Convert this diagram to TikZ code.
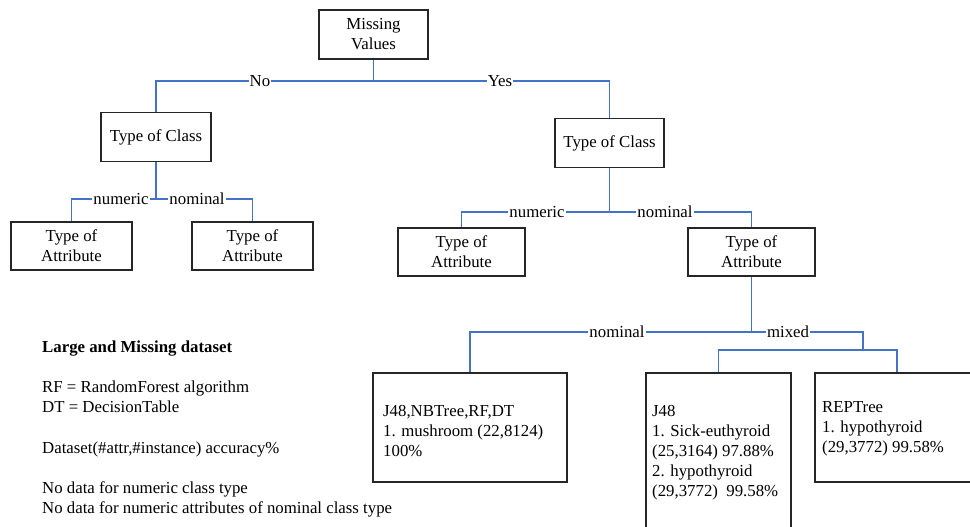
\documentclass[tikz,border=0pt]{standalone}
\usepackage{fontspec}
\setmainfont{Liberation Serif}
\newcommand\dfont{\fontsize{16.8}{20}\selectfont}
\definecolor{edgeblue}{RGB}{68,114,196}
\tikzset{
  box/.style={draw=black!85, line width=1.2pt, inner sep=0pt, align=center, font=\dfont},
  edge/.style={draw=edgeblue, line width=1.1pt},
  lab/.style={fill=white, inner sep=1pt, font=\dfont},
  txt/.style={anchor=base west, inner sep=0pt, font=\dfont}
}
\begin{document}
\begin{tikzpicture}[x=1pt,y=-1pt]
\useasboundingbox (0,0) rectangle (970,527);
\clip (0,0) rectangle (970,527);
% boxes
\node[box, minimum width=109pt, minimum height=49pt] (mv) at (373.5,34.5) {Missing\\Values};
\node[box, minimum width=110pt, minimum height=49pt] (tcL) at (156,137) {Type of Class};
\node[box, minimum width=109pt, minimum height=49pt] (tcR) at (609.5,143) {Type of Class};
\node[box, minimum width=121pt, minimum height=48pt] (taL1) at (71.5,246) {Type of\\Attribute};
\node[box, minimum width=121pt, minimum height=48pt] (taL2) at (252.5,246) {Type of\\Attribute};
\node[box, minimum width=127pt, minimum height=48pt] (taR1) at (461.5,252) {Type of\\Attribute};
\node[box, minimum width=127pt, minimum height=48pt] (taR2) at (751.5,252) {Type of\\Attribute};
\node[box, minimum width=194pt, minimum height=109pt] (nomb) at (470,427.5) {};
\node[box, minimum width=145pt, minimum height=180pt] (j48b) at (718.5,463) {};
\node[box, minimum width=164pt, minimum height=109pt] (repb) at (897,427.5) {};
% box texts
\node[txt] (t1a) at (383,416) {J48,NBTree,RF,DT};
\node[txt] (t1b) at (383,436) {1. mushroom (22,8124)};
\node[txt] (t1c) at (383,456) {100\%};
\node[txt] (t2a) at (652,416) {J48};
\node[txt] (t2b) at (652,436) {1. Sick-euthyroid};
\node[txt] (t2c) at (652,456) {(25,3164) 97.88\%};
\node[txt] (t2d) at (652,476) {2. hypothyroid};
\node[txt] (t2e) at (652,496) {(29,3772)\ \ 99.58\%};
\node[txt] (t3a) at (822,412) {REPTree};
\node[txt] (t3b) at (822,432) {1. hypothyroid};
\node[txt] (t3c) at (822,452) {(29,3772) 99.58\%};
% notes
\node[txt, font=\dfont\bfseries] (n1) at (42,352) {Large and Missing dataset};
\node[txt] (n2) at (42,392) {RF = RandomForest algorithm};
\node[txt] (n3) at (42,412) {DT = DecisionTable};
\node[txt] (n4) at (42,453) {Dataset(\#attr,\#instance) accuracy\%};
\node[txt] (n5) at (42,493) {No data for numeric class type};
\node[txt] (n6) at (42,513) {No data for numeric attributes of nominal class type};
% junctions
\coordinate (j0) at (373.5,81);
\coordinate (j1) at (156,199);
\coordinate (j2) at (609.5,212);
\coordinate (j3) at (751.5,332);
\coordinate (jm) at (863,350);
% connectors
\draw[edge] (mv.south) -- (j0);
\draw[edge] (j0) -| (tcL.north);
\draw[edge] (j0) -| (tcR.north);
\draw[edge] (tcL.south) -- (j1);
\draw[edge] (j1) -| (taL1.north);
\draw[edge] (j1) -| (taL2.north);
\draw[edge] (tcR.south) -- (j2);
\draw[edge] (j2) -| (taR1.north);
\draw[edge] (j2) -| (taR2.north);
\draw[edge] (taR2.south) -- (j3);
\draw[edge] (j3) -| (nomb.north);
\draw[edge] (j3) -| (jm);
\draw[edge] (jm) -| (j48b.north);
\draw[edge] (jm) -| (repb.north);
% labels
\node[lab] (lno) at (260,81) {No};
\node[lab] (lyes) at (500,81) {Yes};
\node[lab] (lnum1) at (121,199) {numeric};
\node[lab] (lnom1) at (197,199) {nominal};
\node[lab] (lnum2) at (537,212) {numeric};
\node[lab] (lnom2) at (665,212) {nominal};
\node[lab] (lnom3) at (617,332) {nominal};
\node[lab] (lmix) at (788,332) {mixed};
\end{tikzpicture}
\end{document}
